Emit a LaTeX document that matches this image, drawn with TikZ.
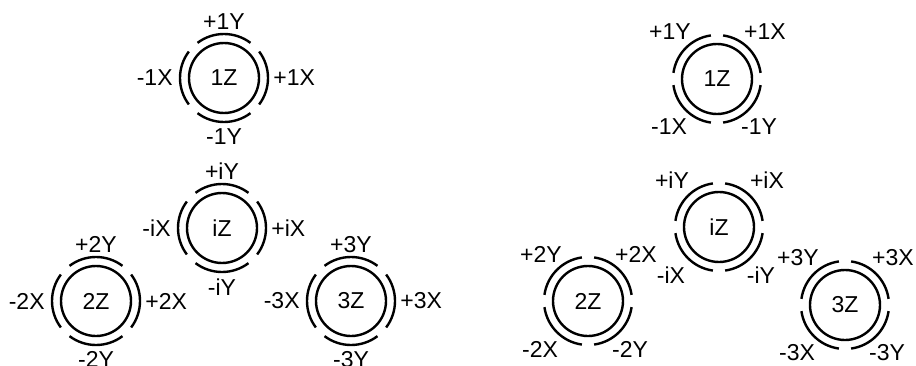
\documentclass[tikz,border=0pt]{standalone}
\usepackage{fontspec}
\setmainfont{Liberation Sans}
\tikzset{
  zcirc/.style={
    circle, draw, line width=1.2pt,
    minimum size=35pt, inner sep=0pt,
    font=\fontsize{11.5}{13}\selectfont
  },
  rimarc/.style={line width=1.2pt},
  axlabel/.style={
    inner sep=0pt, font=\fontsize{11.5}{13}\selectfont
  },
}

\begin{document}
\begin{tikzpicture}[x=0.5pt, y=0.5pt]
  \useasboundingbox (0,0) rectangle (916,365);

  % left: arcs face the axes
  \foreach \nm/\cx/\cy/\lb in {a1/224/287/1, ai/222/137/i, a2/96/64/2, a3/351/64/3} {
    \node[zcirc] (\nm) at (\cx,\cy) {\lb Z};
    \foreach \a in {0,90,180,270}
      \draw[rimarc] (\nm.center) ++(\a-37:44) arc[start angle=\a-37, end angle=\a+37, radius=44];
    \node[axlabel, anchor=south] (\nm-py) at ([shift={(0,48)}]\nm.center) {+\lb Y};
    \node[axlabel, anchor=north] (\nm-my) at ([shift={(0,-50)}]\nm.center) {-\lb Y};
    \node[axlabel, anchor=east] (\nm-mx) at ([shift={(-51,0)}]\nm.center) {-\lb X};
    \node[axlabel, anchor=west] (\nm-px) at ([shift={(49,0)}]\nm.center) {+\lb X};
  }

  % right: arcs turned by 45 degrees
  \foreach \nm/\cx/\cy/\lb in {b1/717/286/1, bi/719/138/i, b2/588/64/2, b3/845/60/3} {
    \node[zcirc] (\nm) at (\cx,\cy) {\lb Z};
    \foreach \a in {45,135,225,315}
      \draw[rimarc] (\nm.center) ++(\a-37:44) arc[start angle=\a-37, end angle=\a+37, radius=44];
    \node[axlabel] (\nm-py) at ([shift={(-47,47)}]\nm.center) {+\lb Y};
    \node[axlabel] (\nm-px) at ([shift={(48,47)}]\nm.center) {+\lb X};
    \node[axlabel] (\nm-mx) at ([shift={(-48,-48)}]\nm.center) {-\lb X};
    \node[axlabel] (\nm-my) at ([shift={(42,-48)}]\nm.center) {-\lb Y};
  }
\end{tikzpicture}
\end{document}
